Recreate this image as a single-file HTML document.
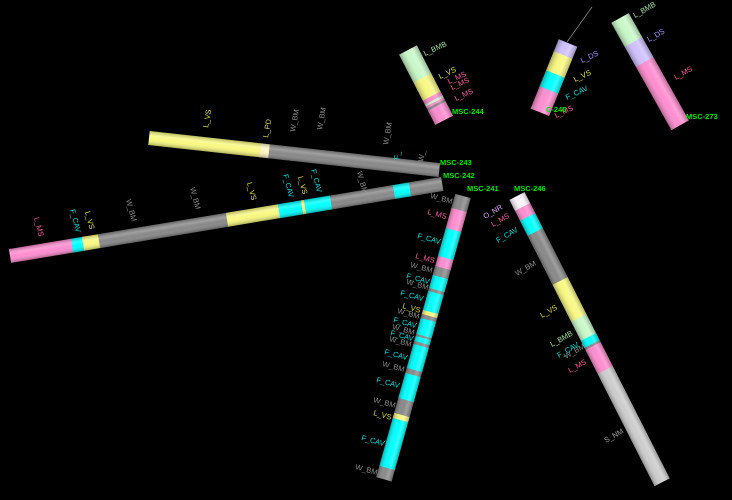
<!DOCTYPE html>
<html><head><meta charset="utf-8"><style>
html,body{margin:0;padding:0;background:#000;width:732px;height:500px;overflow:hidden}
svg{display:block}
text{font-family:"Liberation Sans",sans-serif;font-size:7.5px}
</style></head><body>
<svg id="s" width="732" height="500" viewBox="0 0 732 500" xmlns="http://www.w3.org/2000/svg">
<defs>
<linearGradient id="sh" x1="0" y1="0" x2="0" y2="1">
<stop offset="0" stop-color="#000" stop-opacity="0.25"/>
<stop offset="0.3" stop-color="#fff" stop-opacity="0.2"/>
<stop offset="0.55" stop-color="#fff" stop-opacity="0.0"/>
<stop offset="1" stop-color="#000" stop-opacity="0.3"/>
</linearGradient>
</defs>
<line x1="567" y1="42" x2="592" y2="7" stroke="#888" stroke-width="0.8"/>
</svg>
<script>
var S=document.getElementById('s'),NS='http://www.w3.org/2000/svg';
function el(n,a,p){var e=document.createElementNS(NS,n);for(var k in a)e.setAttribute(k,a[k]);(p||S).appendChild(e);return e;}
var C={P:'#ff8cd0',C:'#00ffff',Y:'#f8f880',G:'#888888',LG:'#c8f8c8',LV:'#d0c0ff',W:'#fff4ff',LY:'#fff4c0',SG:'#cccccc'};
function tube(x1,y1,x2,y2,w,useY,segs){
 var dx=x2-x1,dy=y2-y1,L=Math.sqrt(dx*dx+dy*dy),ang=Math.atan2(dy,dx)*180/Math.PI;
 var g=el('g',{transform:'translate('+x1+','+y1+') rotate('+ang+')'});
 var a0=useY?y1:x1,a1=useY?y2:x2;
 segs.forEach(function(s){
  var f0=(s[0]-a0)/(a1-a0),f1=(s[1]-a0)/(a1-a0);
  var lo=Math.min(f0,f1)*L,hi=Math.max(f0,f1)*L;
  el('rect',{x:lo,y:-w/2,width:hi-lo+0.3,height:w,fill:C[s[2]]},g);
 });
 el('rect',{x:0,y:-w/2,width:L,height:w,fill:'url(#sh)'},g);
}
tube(149,138,439,170,14,false,[[149,260,'Y'],[260,269,'LY'],[269,439,'G']]);
tube(10,256,442,184,14,false,[[10,72,'P'],[72,83,'C'],[83,99,'Y'],[99,227,'G'],[227,279,'Y'],[279,302,'C'],[302,305,'Y'],[305,331,'C'],[331,394,'G'],[394,410,'C'],[410,442,'G']]);
tube(463,196,384,479,16,true,[[196,210,'G'],[210,230,'P'],[230,258,'C'],[258,268,'P'],[268,277,'G'],[277,290,'C'],[290,293,'G'],[293,312,'C'],[312,316,'Y'],[316,320,'G'],[320,336,'C'],[336,338,'G'],[338,343,'C'],[343,346,'G'],[346,370,'C'],[370,375,'G'],[375,400,'C'],[400,415,'G'],[415,420,'Y'],[420,468,'C'],[468,479,'G']]);
tube(517,196,662,482,17,true,[[196,207,'W'],[207,217,'P'],[217,232,'C'],[232,281,'G'],[281,318,'Y'],[318,337,'LG'],[337,344,'C'],[344,346,'G'],[346,370,'P'],[370,482,'SG']]);
tube(408,50,444,120,20,true,[[50,78,'LG'],[78,96,'Y'],[96,100,'P'],[100,102,'LG'],[102,104,'P'],[104,106,'G'],[106,120,'P']]);
tube(568,43,540,112,20,true,[[43,55,'LV'],[55,74,'Y'],[74,90,'C'],[90,112,'P']]);
tube(620,18,680,125,20,true,[[18,42,'LG'],[42,62,'LV'],[62,125,'P']]);
var LC={L_MS:'#ff5aa0',F_CAV:'#00e4e4',L_VS:'#e0e040',W_BM:'#8c8c8c',L_BMB:'#a0e0a0',L_DS:'#a090ff',L_PD:'#e0d060',O_NR:'#e0a0ff',S_NM:'#a0a0a0',M:'#00ee00'};
function T(t,x,y,r,c){var e=el('text',{x:x,y:y,fill:c||LC[t]||'#888',transform:'rotate('+(r||0)+' '+x+' '+y+')'});if(c==='b'){e.setAttribute('fill',LC.M);e.setAttribute('font-weight','bold');}e.textContent=t;}
T('L_VS',208,128,-80);T('L_PD',268,138,-80);T('W_BM',295,132,-80);T('W_BM',322,130,-80);T('W_BM',388,145,-80);T('F_',399,160,-80,LC.F_CAV);T('W_',423,162,-80,LC.W_BM);
T('MSC-243',440,165,0,'b');T('MSC-242',443,178,0,'b');
T('L_MS',34,218,75);T('F_CAV',70,210,75);T('L_VS',85,212,75);T('W_BM',126,200,75);T('W_BM',190,188,75);T('L_VS',247,183,75);T('F_CAV',283,175,75);T('L_VS',298,177,75);T('F_CAV',311,170,75);T('W_BM',357,172,75);
T('MSC-241',467,191,0,'b');T('W_BM',430,198,15);T('L_MS',427,214,15);T('F_CAV',417,238,15);T('L_MS',415,258,15);T('W_BM',410,267,15);T('F_CAV',406,278,15);T('W_BM',406,284,15);T('F_CAV',400,295,15);T('L_VS',402,308,15);T('W_BM',397,313,15);T('F_CAV',393,322,15);T('W_BM',392,329,15);T('F_CAV',390,335,15);T('W_BM',389,341,15);T('F_CAV',384,354,15);T('W_BM',382,366,15);T('F_CAV',376,382,15);T('W_BM',373,402,15);T('L_VS',373,415,15);T('F_CAV',361,440,15);T('W_BM',355,469,15);
T('MSC-246',514,191,0,'b');T('O_NR',485,219,-30);T('L_MS',493,227,-30);T('F_CAV',498,243,-30);T('W_BM',517,276,-30);T('L_VS',542,318,-30);T('L_BMB',552,347,-30);T('F_CAV',559,358,-30);T('W_BM',566,359,-30);T('L_MS',570,373,-30);T('S_NM',606,443,-30);
T('L_BMB',425,56,-25);T('L_VS',440,79,-25);T('L_MS',449,84,-25);T('L_MS',452,90,-25);T('L_MS',456,101,-25);T('MSC-244',452,114,0,'b');
T('L_DS',582,63,-25);T('L_VS',575,82,-25);T('F_CAV',567,100,-25);T('L_MS',556,118,-25);T('C-245',546,112,0,'b');
T('L_BMB',635,18,-30);T('L_DS',649,42,-30);T('L_MS',676,80,-30);T('MSC-273',686,119,0,'b');
</script>
</body></html>
